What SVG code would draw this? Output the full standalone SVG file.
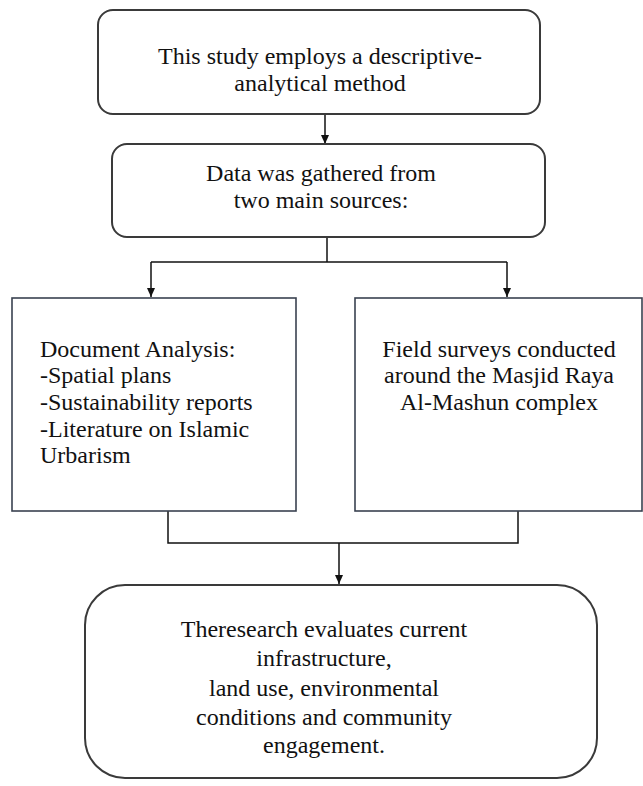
<svg xmlns="http://www.w3.org/2000/svg" width="643" height="786" viewBox="0 0 643 786">
<style>
.box{fill:#fff;stroke:#3a3a3a;stroke-width:2}
.rbox{fill:#fff;stroke:#3a4250;stroke-width:1.6}
.t{font-family:"Liberation Serif","Times New Roman",serif;font-size:24px;fill:#111}
.c{text-anchor:middle}
.ln{stroke:#111;stroke-width:1.5;fill:none}
</style>
<defs>
<marker id="ah" viewBox="0 0 10 10" refX="10" refY="5" markerWidth="9" markerHeight="8" markerUnits="userSpaceOnUse" orient="auto" preserveAspectRatio="none">
<path d="M0,0 L10,5 L0,10 z" fill="#111"/>
</marker>
</defs>
<rect width="643" height="786" fill="#fff"/>
<g id="connectors">
<line class="ln" x1="325" y1="115" x2="325" y2="144" marker-end="url(#ah)"/>
<polyline class="ln" points="327,237 327,262"/>
<polyline class="ln" points="151,262 507,262"/>
<line class="ln" x1="151" y1="262" x2="151" y2="297" marker-end="url(#ah)"/>
<line class="ln" x1="507" y1="262" x2="507" y2="297" marker-end="url(#ah)"/>
<polyline class="ln" points="168,511 168,543 518,543 518,511"/>
<line class="ln" x1="339" y1="543" x2="339" y2="584" marker-end="url(#ah)"/>
</g>
<g id="n1">
<rect class="box" x="98" y="10" width="442" height="104" rx="15"/>
<text class="t c" x="320" y="64">This study employs a descriptive-</text>
<text class="t c" x="320" y="91">analytical method</text>
</g>
<g id="n2">
<rect class="box" x="112" y="144" width="433" height="93" rx="15"/>
<text class="t c" x="321" y="181">Data was gathered from</text>
<text class="t c" x="321" y="208">two main sources:</text>
</g>
<g id="n3">
<rect class="rbox" x="12" y="298" width="284" height="213"/>
<text class="t" x="40" y="357">Document Analysis:</text>
<text class="t" x="40" y="383">-Spatial plans</text>
<text class="t" x="40" y="410">-Sustainability reports</text>
<text class="t" x="40" y="437">-Literature on Islamic</text>
<text class="t" x="40" y="463">Urbarism</text>
</g>
<g id="n4">
<rect class="rbox" x="355" y="298" width="287" height="213"/>
<text class="t c" x="499" y="357">Field surveys conducted</text>
<text class="t c" x="499" y="383">around the Masjid Raya</text>
<text class="t c" x="499" y="410">Al-Mashun complex</text>
</g>
<g id="n5">
<rect class="box" x="85" y="585" width="512" height="193" rx="40"/>
<text class="t c" x="324" y="637">Theresearch evaluates current</text>
<text class="t c" x="324" y="666">infrastructure,</text>
<text class="t c" x="324" y="696">land use, environmental</text>
<text class="t c" x="324" y="725">conditions and community</text>
<text class="t c" x="324" y="753">engagement.</text>
</g>
</svg>
